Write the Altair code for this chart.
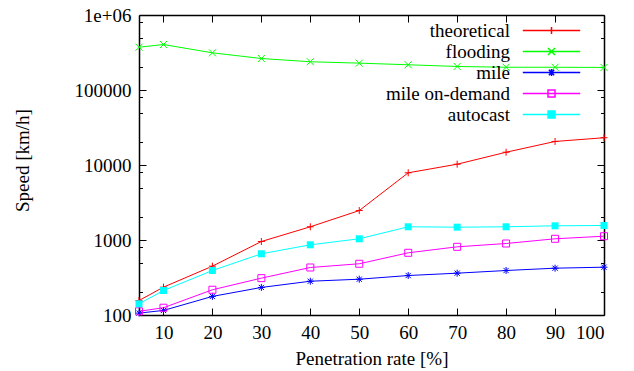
import altair as alt
import pandas as pd

# ---------------- data ----------------
penetration = [5, 10, 20, 30, 40, 50, 60, 70, 80, 90, 100]
series_names = ["theoretical", "flooding", "mile", "mile on-demand", "autocast"]
theoretical = [156, 235, 448, 955, 1500, 2470, 7870, 10250, 14800, 20600, 23100]
flooding = [372000, 404000, 313000, 263000, 238000, 228000, 217000, 206000, 201000, 201000, 200000]
mile = [106, 115, 177, 233, 282, 300, 336, 361, 392, 421, 434]
mile_on_demand = [112, 125, 217, 310, 430, 482, 675, 811, 898, 1038, 1124]
autocast = [141, 212, 392, 655, 863, 1038, 1500, 1482, 1500, 1546, 1561]
series_colors = ["#ff0000", "#00ff00", "#0000ff", "#ff00ff", "#00ffff"]

x_ticks = [10, 20, 30, 40, 50, 60, 70, 80, 90, 100]
y_ticks = [100, 1000, 10000, 100000, 1000000]
y_minor = [200, 500, 800, 2000, 5000, 8000, 20000, 50000, 80000,
           200000, 500000, 800000]

values = [theoretical, flooding, mile, mile_on_demand, autocast]
rows = []
for name, vals in zip(series_names, values):
    for x, v in zip(penetration, vals):
        rows.append({"series": name, "rate": x, "speed": v})
df = pd.DataFrame(rows)

# ---------------- styling ----------------
W, H = 465, 300
FONT = "Liberation Serif"
FS = 19

marker_paths = {
    "theoretical": "M-1,0H1M0,-1V1",
    "flooding": "M-1,-1L1,1M-1,1L1,-1",
    "mile": "M-1,0H1M0,-1V1M-0.75,-0.75L0.75,0.75M-0.75,0.75L0.75,-0.75",
    "mile on-demand": "M-1,-1H1V1H-1Z",
    "autocast": "square",
}
LINE = "M-4.1,0H4.1"
legend_paths = [
    LINE + "M0,-0.5V0.5",
    LINE + "M-0.5,-0.5L0.5,0.5M-0.5,0.5L0.5,-0.5",
    LINE + "M0,-0.5V0.5M-0.38,-0.38L0.38,0.38M-0.38,0.38L0.38,-0.38",
    LINE + "M-0.5,-0.5H0.5V0.5H-0.5Z",
    LINE + "M-0.5,-0.5H0.5V0.5H-0.5ZM-0.3,-0.3H0.3V0.3H-0.3ZM-0.1,-0.1H0.1V0.1H-0.1Z",
]

x_scale = alt.Scale(domain=[5, 100], nice=False, zero=False)
y_scale = alt.Scale(type="log", domain=[100, 1000000], nice=False)
color_scale = alt.Scale(domain=series_names, range=series_colors)

y_label_expr = "datum.value >= 1000000 ? '1e+06' : format(datum.value, 'd')"

main_x = alt.Axis(orient="bottom", values=x_ticks, ticks=False, tickSize=0,
                  labelPadding=8, domain=True, title="Penetration rate [%]",
                  titleX=W / 2, titleY=43, titleBaseline="middle", titleAlign="center")
main_y = alt.Axis(orient="left", values=y_ticks, ticks=False, tickSize=0,
                  labelPadding=8, domain=True, labelExpr=y_label_expr,
                  title="Speed [km/h]", titleX=-117, titleY=145,
                  titleBaseline="middle", titleAlign="center")
x_in_bottom = alt.Axis(orient="top", offset=-H, values=x_ticks, tickSize=7,
                       labels=False, domain=False, title=None)
x_in_top = alt.Axis(orient="bottom", offset=-H, values=x_ticks, tickSize=7,
                    labels=False, domain=True, title=None)
y_in_left = alt.Axis(orient="right", offset=-W, values=y_ticks, tickSize=7,
                     labels=False, domain=False, title=None)
y_in_right = alt.Axis(orient="left", offset=-W, values=y_ticks, tickSize=7,
                      labels=False, domain=True, title=None)
y_minor_left = alt.Axis(orient="right", offset=-W, values=y_minor, tickSize=3.5,
                        labels=False, domain=False, title=None)
y_minor_right = alt.Axis(orient="left", offset=-W, values=y_minor, tickSize=3.5,
                         labels=False, domain=False, title=None)

base = alt.Chart(df)

legend_def = alt.Legend(
    title=None, orient="none", legendX=403, legendY=6,
    labelAlign="right", labelOffset={"expr": "-51"}, labelFont=FONT, labelFontSize=FS,
    labelColor="black", labelLimit=400, symbolSize=196, symbolStrokeWidth=1.5,
    symbolOpacity=1, rowPadding=1, padding=0,
)

# invisible layer that only carries the legend (first, so its legend settings win)
legend_layer = base.mark_point(filled=False, opacity=0, size=196).encode(
    x=alt.X("rate:Q", scale=x_scale, axis=None),
    y=alt.Y("speed:Q", scale=y_scale, axis=None),
    color=alt.Color("series:N", scale=color_scale, legend=legend_def),
    shape=alt.Shape("series:N", scale=alt.Scale(domain=series_names, range=legend_paths),
                    legend=legend_def),
)

lines = base.mark_line(strokeWidth=1).encode(
    x=alt.X("rate:Q", scale=x_scale, axis=main_x),
    y=alt.Y("speed:Q", scale=y_scale, axis=main_y),
    color=alt.Color("series:N", scale=color_scale, legend=None),
    detail="series:N",
)

axis_pairs = [
    (x_in_bottom, y_in_left),
    (x_in_top, y_in_right),
    (None, y_minor_left),
    (None, y_minor_right),
    (None, None),
]

point_layers = []
for name, colr, (ax_x, ax_y) in zip(series_names, series_colors, axis_pairs):
    filled = name == "autocast"
    layer = base.transform_filter(alt.datum.series == name).mark_point(
        shape=marker_paths[name], filled=filled, color=colr, size=49,
        strokeWidth=1, opacity=1
    ).encode(
        x=alt.X("rate:Q", scale=x_scale, axis=ax_x),
        y=alt.Y("speed:Q", scale=y_scale, axis=ax_y),
    )
    point_layers.append(layer)

chart = alt.layer(legend_layer, lines, *point_layers).properties(
    width=W, height=H,
    autosize=alt.AutoSizeParams(type="none"),
    padding={"left": 139, "top": 15, "right": 30, "bottom": 56},
).configure_view(stroke=None).configure_axis(
    grid=False, domainColor="black", domainWidth=1.5, tickColor="black",
    tickWidth=1, labelColor="black", labelFont=FONT, labelFontSize=FS,
    titleFont=FONT, titleFontSize=FS, titleFontWeight="normal", titleColor="black",
)

chart.save("out.html", embed_options={"renderer": "svg", "actions": False})
